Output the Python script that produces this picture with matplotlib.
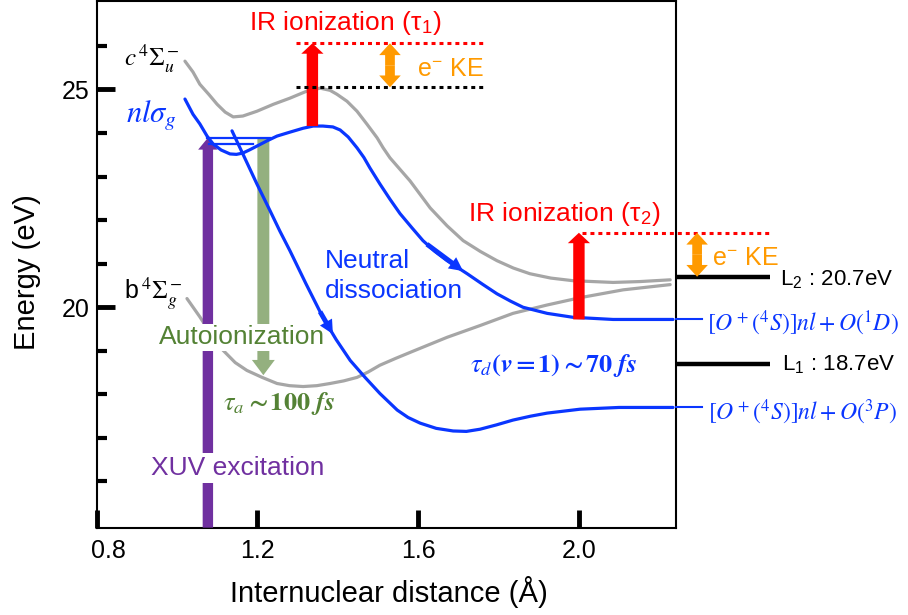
import matplotlib
matplotlib.use("Agg")
import matplotlib.pyplot as plt
from matplotlib.transforms import ScaledTranslation
import numpy as np

plt.rcParams['font.family'] = ['Liberation Sans', 'DejaVu Sans']
plt.rcParams['mathtext.fontset'] = 'stix'

# potential curves: internuclear distance (A) vs energy (eV)
c4_r = [1.020, 1.040, 1.057, 1.080, 1.100, 1.120, 1.140, 1.164, 1.199, 1.240, 1.281,
        1.320, 1.356, 1.381, 1.398, 1.423, 1.448, 1.473, 1.498, 1.513, 1.530, 1.580,
        1.630, 1.672, 1.712, 1.755, 1.796, 1.837, 1.878, 1.930, 1.985, 2.085, 2.152,
        2.227]
c4_e = [25.65, 25.40, 25.12, 24.88, 24.66, 24.48, 24.37, 24.39, 24.50, 24.66, 24.80,
        24.95, 25.03, 24.98, 24.89, 24.73, 24.50, 24.20, 23.89, 23.66, 23.43, 22.90,
        22.28, 21.87, 21.53, 21.28, 21.07, 20.90, 20.77, 20.67, 20.61, 20.57, 20.59,
        20.63]

b4_r = [1.025, 1.057, 1.087, 1.115, 1.145, 1.174, 1.212, 1.249, 1.280, 1.314, 1.348,
        1.381, 1.415, 1.448, 1.475, 1.505, 1.545, 1.587, 1.672, 1.754, 1.836, 1.920,
        2.003, 2.110, 2.227]
b4_e = [20.20, 19.78, 19.35, 19.01, 18.73, 18.55, 18.39, 18.25, 18.20, 18.18, 18.20,
        18.25, 18.31, 18.39, 18.51, 18.67, 18.83, 18.99, 19.31, 19.58, 19.86, 20.05,
        20.22, 20.40, 20.52]

nl_r = [1.020, 1.040, 1.057, 1.075, 1.090, 1.110, 1.132, 1.148, 1.164, 1.180, 1.199,
        1.224, 1.249, 1.281, 1.314, 1.339, 1.363, 1.388, 1.406, 1.426, 1.448, 1.465,
        1.480, 1.505, 1.530, 1.555, 1.585, 1.612, 1.642, 1.672, 1.722, 1.760, 1.796,
        1.830, 1.861, 1.921, 1.985, 2.085, 2.234]
nl_e = [24.78, 24.43, 24.21, 23.93, 23.75, 23.61, 23.52, 23.51, 23.54, 23.61, 23.70,
        23.82, 23.93, 24.02, 24.11, 24.16, 24.16, 24.14, 24.07, 23.91, 23.66, 23.44,
        23.20, 22.83, 22.48, 22.15, 21.82, 21.53, 21.28, 21.07, 20.77, 20.53, 20.31,
        20.14, 20.00, 19.86, 19.77, 19.72, 19.72]

diss_r = [1.137, 1.164, 1.199, 1.232, 1.256, 1.281, 1.321, 1.363, 1.396, 1.431,
          1.468, 1.505, 1.548, 1.575, 1.605, 1.645, 1.687, 1.720, 1.754, 1.795, 1.836,
          1.880, 1.921, 2.003, 2.100, 2.234]
diss_e = [24.05, 23.52, 22.83, 22.21, 21.75, 21.30, 20.54, 19.77, 19.26, 18.78,
          18.39, 18.02, 17.64, 17.47, 17.34, 17.22, 17.16, 17.15, 17.20, 17.30, 17.41,
          17.50, 17.57, 17.66, 17.70, 17.70]

# vibrational levels in the nl sigma_g well
vib_e = [23.89, 23.74]
vib_start = [1.075, 1.080]
vib_end = [1.232, 1.189]

r_xuv = 1.077
r_auto, e_auto = 1.215, 18.44
r_ir1, e_ir1 = 1.337, 26.06
e_c4_top = 25.05
r_ke1 = 1.530
r_ir2, e_ir2 = 2.0, 21.71
r_ke2 = 2.294
L1, L2 = 18.7, 20.7
e_1D, e_3P = 19.72, 17.70

gray = '#a6a6a6'
blue = '#0a36ff'
red = '#ff0000'
orange = '#ff9a00'
purple = '#7030a0'
dgreen = '#548235'

fig = plt.figure(figsize=(9.08, 6.15), dpi=100)
ax = fig.add_axes([0.1063, 0.1420, 0.6382, 0.8556])
ax.set_xlim(0.8, 2.2415)
ax.set_ylim(14.94, 27.02)


def arrow(x0, y0, x1, y1, color, w, hw, hl, z=4, alpha=1.0):
    ax.annotate('', xy=(x1, y1), xytext=(x0, y0),
                arrowprops=dict(width=w, headwidth=hw, headlength=hl, color=color,
                                lw=0, shrink=0, alpha=alpha),
                annotation_clip=False, zorder=z)


# curves
line_kw = dict(lw=2.3, solid_joinstyle='round', solid_capstyle='round')
ax.plot(c4_r, c4_e, color=gray, zorder=2, **line_kw)
ax.plot(b4_r, b4_e, color=gray, zorder=2, **line_kw)
ax.plot(nl_r, nl_e, color=blue, zorder=5, **line_kw)
ax.plot(diss_r, diss_e, color=blue, zorder=5, **line_kw)
for e, r0, r1 in zip(vib_e, vib_start, vib_end):
    ax.plot([r0, r1], [e, e], color=blue, lw=1.6, zorder=5)

# arrows along the dissociating curves
for rr, ee, r0, r1 in [(nl_r, nl_e, 1.622, 1.712), (diss_r, diss_e, 1.356, 1.388)]:
    arrow(r0, np.interp(r0, rr, ee), r1, np.interp(r1, rr, ee), blue, 3.5, 10, 10, z=5)

# XUV excitation and autoionization
arrow(r_xuv, 14.94, r_xuv, vib_e[0], purple, 7.5, 14, 8.5, z=3)
arrow(r_auto, vib_e[0], r_auto, e_auto, '#2a6200', 8.6, 16.5, 11, z=3, alpha=0.5)

# IR ionization at tau_1
ax.plot([1.296, 1.766], [e_ir1, e_ir1], color=red, lw=2.2, ls=(0, (1.3, 1.3)), zorder=7)
ax.plot([1.296, 1.766], [e_c4_top, e_c4_top], color='k', lw=2.2, ls=(0, (1.3, 1.3)), zorder=7)
arrow(r_ir1, 24.16, r_ir1, e_ir1, red, 8.2, 16, 7.5, z=6)
mid = (e_ir1 + e_c4_top) / 2
arrow(r_ke1, mid, r_ke1, e_ir1, orange, 7, 15.5, 8.5, z=7)
arrow(r_ke1, mid, r_ke1, e_c4_top, orange, 7, 15.5, 8.5, z=7)

# IR ionization at tau_2
ax.plot([2.008, 2.475], [e_ir2, e_ir2], color=red, lw=2.2, ls=(0, (1.3, 1.3)),
        zorder=7, clip_on=False)
arrow(r_ir2, e_1D, r_ir2, e_ir2, red, 8.2, 16, 7.5, z=6)
mid = (e_ir2 + L2) / 2
arrow(r_ke2, mid, r_ke2, e_ir2, orange, 7, 15.5, 8.5, z=7)
arrow(r_ke2, mid, r_ke2, L2, orange, 7, 15.5, 8.5, z=7)

# ionic limits and asymptotes outside the frame
for e in (L1, L2):
    ax.plot([2.2415, 2.475], [e, e], color='k', lw=3.2, clip_on=False,
            solid_capstyle='butt', zorder=6)
for e in (e_1D, e_3P):
    ax.plot([2.2415, 2.306], [e, e], color=blue, lw=1.5, clip_on=False, zorder=6)

# labels
ax.text(1.419, 26.52, 'IR ionization (τ$_\\mathregular{1}$)', color=red, fontsize=19,
        ha='center', va='center')
ax.text(1.964, 22.15, 'IR ionization (τ$_\\mathregular{2}$)', color=red, fontsize=19,
        ha='center', va='center')
ax.text(1.597, 25.46, 'e$^\\mathregular{-}$ KE', color=orange, fontsize=18, va='center')
ax.text(2.331, 21.12, 'e$^\\mathregular{-}$ KE', color=orange, fontsize=18, va='center',
        clip_on=False)
ax.text(2.500, 20.66, 'L$_\\mathregular{2}$ : 20.7eV', fontsize=16, va='center')
ax.text(2.505, 18.70, 'L$_\\mathregular{1}$ : 18.7eV', fontsize=16, va='center')
ax.text(2.319, 19.63, r'$[O^+({}^4S)]nl+O({}^1D)$', color=blue, fontsize=17, va='center')
ax.text(2.321, 17.59, r'$[O^+({}^4S)]nl+O({}^3P)$', color=blue, fontsize=17, va='center')

ax.text(1.008, 25.72, r'$c\,{}^4\Sigma_u^-$', fontsize=18, ha='right', va='center')
ax.text(1.000, 24.40, r'$nl\sigma_g$', color=blue, fontsize=22, ha='right', va='center')
ax.text(1.013, 20.31, r'b$\,{}^4\Sigma_g^-$', fontsize=18, ha='right', va='center')

ax.text(1.368, 21.07, 'Neutral', color=blue, fontsize=19, va='center')
ax.text(1.368, 20.38, 'dissociation', color=blue, fontsize=19, va='center')
ax.text(1.937, 18.67, r'$\boldsymbol{\tau_d(v=1)\sim 70\ fs}$', color=blue, fontsize=19,
        ha='center', va='center')

ax.text(1.163, 19.31, 'Autoionization', color=dgreen, fontsize=19, ha='center',
        va='center', zorder=3.5,
        bbox=dict(facecolor='white', edgecolor='none', pad=1))
ax.text(1.254, 17.80, r'$\boldsymbol{\tau_a\sim 100\ fs}$', color=dgreen, fontsize=19,
        ha='center', va='center')
ax.text(1.150, 16.31, 'XUV excitation', color=purple, fontsize=19, ha='center',
        va='center', zorder=3.5,
        bbox=dict(facecolor='white', edgecolor='none', pad=2))

# axes
ax.set_xticks([0.8, 1.2, 1.6, 2.0])
ax.set_xticklabels(['0.8', '1.2', '1.6', '2.0'])
ax.set_yticks([20, 25])
ax.set_yticks([16, 17, 18, 19, 21, 22, 23, 24, 26], minor=True)
ax.tick_params(axis='both', which='major', direction='in', length=13, width=3.5,
               labelsize=18)
ax.tick_params(axis='x', which='major', pad=8)
ax.tick_params(axis='y', which='major', pad=5)
ax.tick_params(axis='y', which='minor', direction='in', length=7, width=3)
for s in ax.spines.values():
    s.set_linewidth(1.5)

# first x label sits a little inside the frame
first = ax.get_xticklabels()[0]
first.set_transform(first.get_transform() + ScaledTranslation(0.12, 0, fig.dpi_scale_trans))

fig.text(27 / 908, 1 - 272 / 615, 'Energy (eV)', rotation=90, ha='center', va='center',
         fontsize=21)
fig.text(388.7 / 908, 1 - 592 / 615, 'Internuclear distance (Å)', ha='center',
         va='center', fontsize=21)

fig.savefig('out.png', dpi=100)
